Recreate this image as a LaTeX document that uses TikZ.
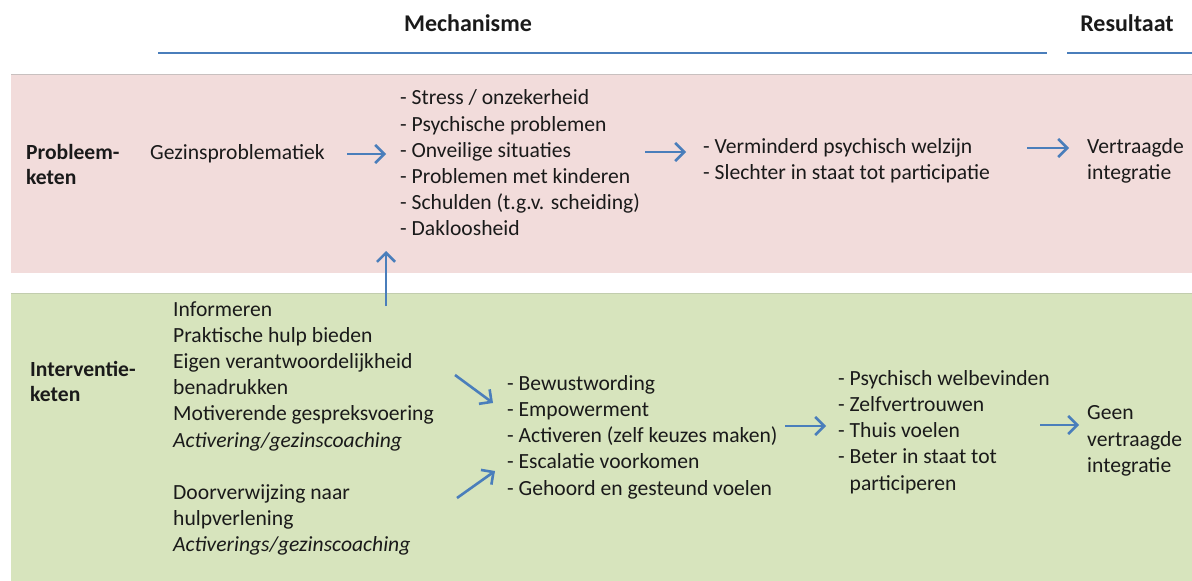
\documentclass[tikz,border=0pt]{standalone}
\usepackage{fontspec}
\setmainfont{Carlito}
\usetikzlibrary{arrows.meta}
\definecolor{pinkbg}{HTML}{F2DCDB}
\definecolor{greenbg}{HTML}{D7E4BD}
\definecolor{pinkedge}{HTML}{C8C0BF}
\definecolor{greenedge}{HTML}{C2CDAE}
\definecolor{arrowblue}{HTML}{4A7EBB}
\definecolor{txtcol}{HTML}{1A1A1A}
\begin{document}
\begin{tikzpicture}[x=1pt,y=-1pt,
  txt/.style={inner sep=0pt, anchor=west, align=left, text=txtcol, font=\fontsize{21.6}{26.2}\selectfont},
  lbl/.style={inner sep=0pt, anchor=west, align=left, text=txtcol, font=\fontsize{21.6}{25}\selectfont\bfseries},
  hdr/.style={inner sep=0pt, anchor=center, text=txtcol, font=\fontsize{24}{26.2}\selectfont\bfseries},
  arr/.style={draw=arrowblue, line width=2.6pt, -{Straight Barb[length=9pt,width=18pt,line width=2.6pt]}},
  rule/.style={draw=arrowblue, line width=2.6pt}]
\useasboundingbox (0,0) rectangle (1192,581);
% bands
\fill[pinkbg] (11,74) rectangle (1192,273);
\draw[pinkedge, line width=1pt] (11,74) -- (1192,74);
\fill[greenbg] (11,293) rectangle (1192,581);
\draw[greenedge, line width=1pt] (11,293) -- (1192,293);
% header
\node[hdr] (mech) at (468,23) {Mechanisme};
\node[hdr] (res) at (1127,23) {Resultaat};
\draw[rule] (158,53) -- (1047,53);
\draw[rule] (1067,53) -- (1192,53);
% problem chain
\node[lbl] (pk) at (26,164) {Probleem-\\keten};
\node[txt] (gezin) at (150,154) {Gezinsproblematiek};
\node[txt] (plist) at (400,163) {- Stress / onzekerheid\\- Psychische problemen\\- Onveilige situaties\\- Problemen met kinderen\\- Schulden (t.g.v. scheiding)\\- Dakloosheid};
\node[txt] (pwel) at (703,160.5) {- Verminderd psychisch welzijn\\- Slechter in staat tot participatie};
\node[txt] (vert) at (1087,160.5) {Vertraagde\\integratie};
% intervention chain
\node[lbl] (ik) at (30,381) {Interventie-\\keten};
\node[txt] (ilist1) at (173,376) {Informeren\\Praktische hulp bieden\\Eigen verantwoordelijkheid\\benadrukken\\Motiverende gespreksvoering\\\textit{Activering/gezinscoaching}};
\node[txt] (ilist2) at (173,520) {Doorverwijzing naar\\hulpverlening\\\textit{Activerings/gezinscoaching}};
\node[txt] (mlist) at (507,437) {- Bewustwording\\- Empowerment\\- Activeren (zelf keuzes maken)\\- Escalatie voorkomen\\- Gehoord en gesteund voelen};
\node[txt] (rlist) at (838,432) {- Psychisch welbevinden\\- Zelfvertrouwen\\- Thuis voelen\\- Beter in staat tot\\\phantom{- }participeren};
\node[txt] (geen) at (1087,441) {Geen\\vertraagde\\integratie};
% arrow endpoints
\coordinate (a1s) at (347,154); \coordinate (a1e) at (386,154);
\coordinate (a2s) at (645,152); \coordinate (a2e) at (686,152);
\coordinate (a3s) at (1027,148); \coordinate (a3e) at (1069,148);
\coordinate (a4s) at (386,306); \coordinate (a4e) at (386,251);
\coordinate (a5s) at (455,375); \coordinate (a5e) at (493,403);
\coordinate (a6s) at (457,498); \coordinate (a6e) at (495,471);
\coordinate (a7s) at (785,426); \coordinate (a7e) at (826,426);
\coordinate (a8s) at (1040,425); \coordinate (a8e) at (1079,425);
\foreach \i in {1,...,8} {\draw[arr] (a\i s) -- (a\i e);}
\end{tikzpicture}
\end{document}
